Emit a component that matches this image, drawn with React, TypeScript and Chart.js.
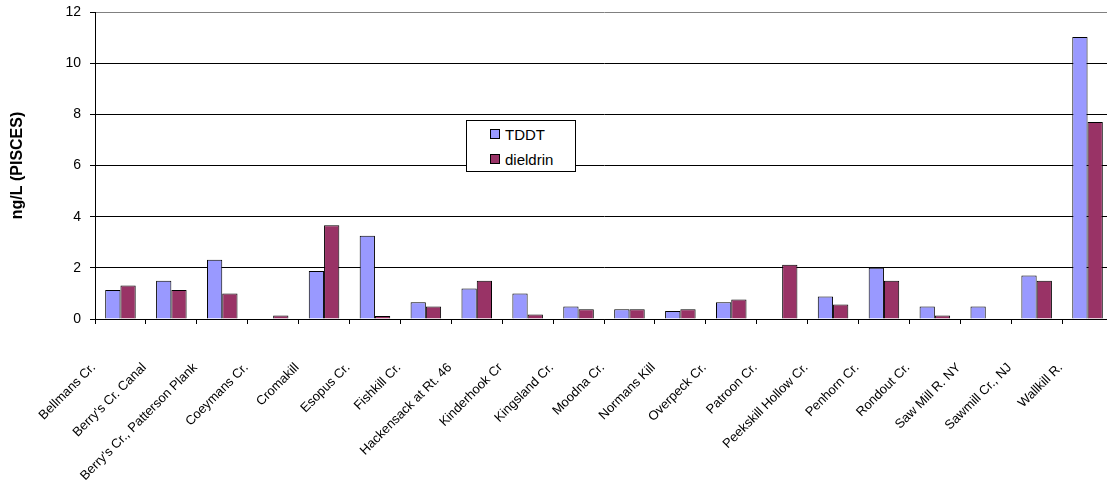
import React, { useEffect, useRef } from "react";
import { Chart, registerables } from "chart.js";

Chart.register(...registerables);

const categories = [
  "Bellmans Cr.",
  "Berry's Cr. Canal",
  "Berry's Cr., Patterson Plank",
  "Coeymans Cr.",
  "Cromakill",
  "Esopus Cr.",
  "Fishkill Cr.",
  "Hackensack at Rt. 46",
  "Kinderhook Cr",
  "Kingsland Cr.",
  "Moodna Cr.",
  "Normans Kill",
  "Overpeck Cr.",
  "Patroon Cr.",
  "Peekskill Hollow Cr.",
  "Penhorn Cr.",
  "Rondout Cr.",
  "Saw Mill R. NY",
  "Sawmill Cr., NJ",
  "Wallkill R.",
];

const tddt = [1.13, 1.5, 2.32, null, 1.88, 3.25, 0.65, 1.19, 1.0, 0.49, 0.38, 0.31, 0.65, null, 0.88, 2.0, 0.49, 0.49, 1.7, 11.02];
const dieldrin = [1.31, 1.13, 1.0, 0.14, 3.66, 0.12, 0.49, 1.5, 0.18, 0.38, 0.38, 0.38, 0.76, 2.12, 0.57, 1.5, 0.14, null, 1.5, 7.7];

const yTicks = [0, 2, 4, 6, 8, 10, 12];
const seriesNames = ["TDDT", "dieldrin"];
const seriesColors = ["#9999FF", "#993366"];

const FONT = "'Liberation Sans', Arial, sans-serif";

export default function App() {
  const canvasRef = useRef<HTMLCanvasElement>(null);

  useEffect(() => {
    const canvas = canvasRef.current;
    if (!canvas) return;
    const chart = new Chart(canvas, {
      type: "bar",
      data: {
        labels: categories,
        datasets: [
          {
            label: seriesNames[0],
            data: tddt,
            backgroundColor: seriesColors[0],
            borderColor: "#000000",
            borderWidth: 1,
            categoryPercentage: 0.6,
            barPercentage: 1.0,
          },
          {
            label: seriesNames[1],
            data: dieldrin,
            backgroundColor: seriesColors[1],
            borderColor: "#000000",
            borderWidth: 1,
            categoryPercentage: 0.6,
            barPercentage: 1.0,
          },
        ],
      },
      options: {
        responsive: false,
        animation: false,
        layout: { padding: { left: 0, top: 12, right: 12, bottom: 0 } },
        plugins: {
          legend: { display: false },
          tooltip: { enabled: false },
        },
        scales: {
          x: {
            offset: true,
            grid: {
              display: true,
              offset: true,
              drawOnChartArea: false,
              drawTicks: true,
              tickLength: 5,
              tickColor: "#000000",
              color: "#000000",
            },
            border: { display: true, color: "#000000", width: 1 },
            ticks: {
              autoSkip: false,
              minRotation: 45,
              maxRotation: 45,
              labelOffset: -27,
              padding: 36,
              color: "#000000",
              font: { family: FONT, size: 13 },
            },
            afterFit: (s: any) => {
              s.height = 492 - 319;
              s.paddingLeft = 0;
              s.paddingRight = 0;
            },
          },
          y: {
            min: 0,
            max: 12,
            afterBuildTicks: (s: any) => {
              s.ticks = yTicks.map((v) => ({ value: v }));
            },
            grid: {
              color: (ctx: any) => (ctx.tick && ctx.tick.value === 12 ? "#808080" : "#000000"),
              lineWidth: 1,
              drawTicks: true,
              tickLength: 5,
              tickColor: "#000000",
            },
            border: { display: true, color: "#000000", width: 1 },
            ticks: {
              padding: 9,
              color: "#000000",
              font: { family: FONT, size: 14 },
            },
            title: {
              display: true,
              text: "ng/L (PISCES)",
              color: "#000000",
              font: { family: FONT, size: 16, weight: "bold" },
              padding: { top: 8, bottom: 0 },
            },
            afterFit: (s: any) => {
              s.width = 95;
              s.paddingTop = 0;
              s.paddingBottom = 0;
            },
          },
        },
      },
    });
    return () => chart.destroy();
  }, []);

  return (
    <div
      style={{
        position: "absolute",
        left: 0,
        top: 0,
        width: 1107,
        height: 492,
        overflow: "hidden",
        background: "#ffffff",
      }}
    >
      <canvas ref={canvasRef} width={1125} height={492} style={{ display: "block", width: 1125, height: 492 }} />
      <div
        style={{
          position: "absolute",
          left: 466,
          top: 120,
          width: 108,
          height: 50,
          border: "1px solid #000",
          background: "#fff",
          fontFamily: FONT,
          fontSize: 15,
          color: "#000",
        }}
      >
        {seriesNames.map((name, i) => (
          <div
            key={name}
            style={{
              position: "absolute",
              left: 23,
              top: i === 0 ? 4 : 29,
              height: 18,
              display: "flex",
              alignItems: "center",
              whiteSpace: "nowrap",
            }}
          >
            <span
              style={{
                display: "inline-block",
                width: 8,
                height: 8,
                border: "1px solid #000",
                background: seriesColors[i],
                marginRight: 5,
              }}
            />
            <span>{name}</span>
          </div>
        ))}
      </div>
    </div>
  );
}
